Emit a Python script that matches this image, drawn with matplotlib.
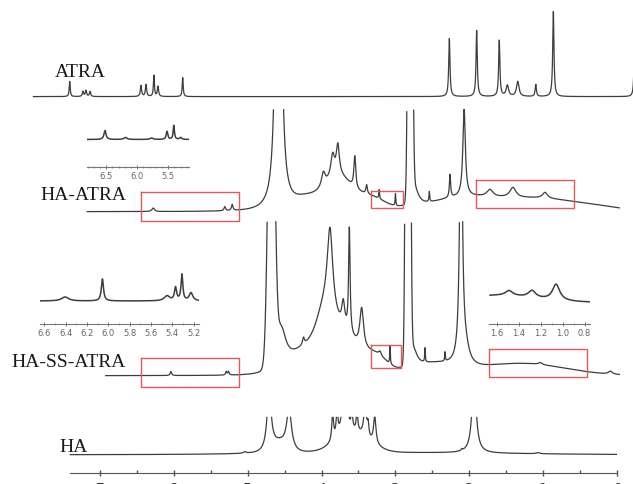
import numpy as np
import matplotlib
matplotlib.use("Agg")
import matplotlib.pyplot as plt

# ------------------------------------------------------------------ data
labels = ["ATRA", "HA-ATRA", "HA-SS-ATRA", "HA"]
main_ticks = [7, 6, 5, 4, 3, 2, 1, 0]

# ATRA : Lorentzian lines (ppm, height, half-width)
atra_ppm = [7.41, 7.23, 7.19, 7.135, 6.445, 6.377, 6.27, 6.215, 5.88,
            2.27, 1.90, 1.594, 1.485, 1.344, 1.10, 0.862, -0.235]
atra_h = [15, 5, 6, 5, 11, 12, 21, 10, 19, 58, 66, 56, 11, 15, 12, 85, 40]
atra_w = [0.008, 0.01, 0.01, 0.01, 0.01, 0.01, 0.008, 0.01, 0.008,
          0.01, 0.01, 0.01, 0.02, 0.02, 0.01, 0.01, 0.01]

# HA-ATRA
haatra_ppm = [6.28, 5.31, 5.21, 4.583, 3.976, 3.85, 3.78, 3.55, 3.39, 3.22,
              3.00, 2.74, 2.541, 2.261, 2.07, 1.72, 1.41, 0.975]
haatra_h = [3.5, 4, 6, 1287, 14, 22, 30, 32, 9, 9, 12, 20, 10, 23, 88, 7, 10, 6]
haatra_w = [0.02, 0.012, 0.012, 0.02, 0.03, 0.03, 0.025, 0.015, 0.012, 0.006,
            0.005, 0.06, 0.006, 0.01, 0.02, 0.05, 0.05, 0.04]
haatra_bg_ppm = [4.20, 3.78, 3.35, 2.80, 2.10, 1.10, 0.30]
haatra_bg_h = [12, 32, 14, 1000, 13, 12, 4]
haatra_bg_s = [0.18, 0.18, 0.20, 0.021, 0.45, 0.50, 0.40]

# HA-SS-ATRA
hass_ppm = [6.04, 5.29, 5.26, 4.55, 4.245, 3.886, 3.706, 3.624, 3.457, 3.21,
            3.073, 2.76, 2.60, 2.329, 2.112, 2.05, 1.04, 0.09]
hass_h = [4, 3.5, 3.5, 40, 7, 82, 25, 105, 40, 4, 18, 20, 14, 9, 300, 15, 2, 3]
hass_w = [0.012, 0.01, 0.01, 0.08, 0.015, 0.045, 0.025, 0.012, 0.03, 0.02,
          0.005, 0.06, 0.005, 0.005, 0.02, 0.06, 0.03, 0.03]
hass_bg_ppm = [4.68, 4.20, 3.95, 3.75, 3.25, 2.83, 2.50, 1.30]
hass_bg_h = [400, 22, 25, 40, 15, 1500, 10, 12]
hass_bg_s = [0.04, 0.25, 0.10, 0.25, 0.15, 0.021, 0.30, 0.60]

# HA
ha_ppm = [5.04, 4.71, 4.44, 3.85, 3.79, 3.70, 3.66, 3.59, 3.52, 3.41, 3.37,
          3.28, 2.10, 1.935, 1.07]
ha_h = [1.5, 60, 40, 26, 24, 40, 30, 18, 20, 35, 12, 27, 1.5, 77, 1]
ha_w = [0.02, 0.0335, 0.04, 0.015, 0.015, 0.03, 0.02, 0.012, 0.012, 0.02,
        0.012, 0.02, 0.01, 0.0335, 0.03]
ha_bg_ppm = [4.57, 3.58, 3.0]
ha_bg_h = [9, 20, 2]
ha_bg_s = [0.10, 0.22, 1.5]

# insets
in1_ppm = [6.52, 6.19, 5.77, 5.52, 5.41, 5.30]
in1_h = [9, 2, 1.5, 8, 14, 2]
in1_w = [0.02, 0.03, 0.03, 0.015, 0.012, 0.02]
in1_ticks = [6.5, 6.0, 5.5]

in2_ppm = [6.405, 6.055, 5.45, 5.37, 5.31, 5.225]
in2_h = [4, 22, 5, 13, 26, 8]
in2_w = [0.04, 0.012, 0.03, 0.012, 0.01, 0.02]
in2_ticks = [6.6, 6.4, 6.2, 6.0, 5.8, 5.6, 5.4, 5.2]

in3_ppm = [1.49, 1.28, 1.06]
in3_h = [5, 7, 16]
in3_w = [0.04, 0.04, 0.04]
in3_bg_ppm = [1.6]
in3_bg_h = [7]
in3_bg_s = [0.35]
in3_ticks = [1.6, 1.4, 1.2, 1.0, 0.8]

# highlighted regions (ppm ranges)
box_ppm = [(6.445, 5.118), (3.335, 2.893), (1.909, 0.582),
           (6.445, 5.118), (3.331, 2.929), (1.729, 0.410)]

# ------------------------------------------------------------------ helpers
def lor(x, c, h, w):
    y = np.zeros_like(x)
    for ci, hi, wi in zip(c, h, w):
        y += hi * wi ** 2 / ((x - ci) ** 2 + wi ** 2)
    return y


def gau(x, c, h, s):
    y = np.zeros_like(x)
    for ci, hi, si in zip(c, h, s):
        y += hi * np.exp(-(x - ci) ** 2 / (2 * si ** 2))
    return y


LINE = "#3d3d3d"
RED = "#e15b5b"
W, H = 633, 485

fig = plt.figure(figsize=(W / 100, H / 100), dpi=100)
ax = fig.add_axes([0, 0, 1, 1])
ax.set_xlim(617 / 73.86, -16 / 73.86)
ax.set_ylim(H, 0)
ax.patch.set_alpha(0)


def draw(axis, rng, base, clip, pk, bg=None, lw=0.9, n=30000):
    x = np.linspace(rng[0], rng[1], n)
    s = lor(x, *pk)
    if bg is not None:
        s = s + gau(x, *bg)
    y = base - s
    if clip is not None:
        y = np.where(y < clip, np.nan, y)
    axis.plot(x, y, color=LINE, lw=lw, solid_capstyle="butt")


# main traces: (ppm range, baseline px, clip px)
draw(ax, (7.91, -0.30), 97.6, None, (atra_ppm, atra_h, atra_w))
draw(ax, (7.18, -0.04), 212.7, 110, (haatra_ppm, haatra_h, haatra_w),
     (haatra_bg_ppm, haatra_bg_h, haatra_bg_s))
draw(ax, (6.93, -0.04), 376.7, 221.7, (hass_ppm, hass_h, hass_w),
     (hass_bg_ppm, hass_bg_h, hass_bg_s))
draw(ax, (7.41, 0.0), 455.7, 417.7, (ha_ppm, ha_h, ha_w),
     (ha_bg_ppm, ha_bg_h, ha_bg_s))

# red boxes
box_y = [(192.7, 221.7), (192.3, 209.3), (180.7, 209.3),
         (359.0, 387.7), (346.0, 369.0), (350.0, 378.3)]
for (a, b), (t, btm) in zip(box_ppm, box_y):
    ax.plot([a, b, b, a, a], [t, t, btm, btm, t], color=RED, lw=1.0)

# bottom ppm axis
for sp in ["top", "left", "right"]:
    ax.spines[sp].set_visible(False)
ax.spines["bottom"].set_position(("data", 474))
ax.spines["bottom"].set_bounds(7.4, 0.0)
ax.spines["bottom"].set_color("#555555")
ax.set_xticks(main_ticks)
ax.set_xticklabels([str(t) for t in main_ticks])
ax.set_xticks(np.arange(0.5, 7.5, 1.0), minor=True)
ax.tick_params(axis="x", which="major", direction="inout", length=5,
               width=1, color="#555555", labelsize=10, labelcolor="#333333", pad=3)
ax.tick_params(axis="x", which="minor", direction="in", length=2.5,
               width=1, color="#555555")
ax.set_yticks([])

# spectrum names
name_pos = [(55, 77), (40, 200), (11, 367), (59, 452)]
for txt, (px, py) in zip(labels, name_pos):
    fig.text(px / W, 1 - py / H, txt, fontsize=14, family="Liberation Serif",
             color="#1a1a1a", ha="left", va="baseline")


def inset(x0, x1, ybot, ytop, xlim, base, pk, ticks, bg=None):
    a = fig.add_axes([x0 / W, 1 - ybot / H, (x1 - x0) / W, (ybot - ytop) / H])
    a.set_xlim(*xlim)
    a.set_ylim(ybot, ytop)
    a.patch.set_alpha(0)
    draw(a, xlim, base, None, pk, bg, lw=1.1, n=4000)
    for sp in ["top", "left", "right"]:
        a.spines[sp].set_visible(False)
    a.spines["bottom"].set_color("#777777")
    a.spines["bottom"].set_linewidth(0.8)
    a.set_xticks(ticks)
    a.set_xticklabels([f"{t:.1f}" for t in ticks])
    lo, hi = min(xlim), max(xlim)
    a.set_xticks(np.round(np.arange(np.ceil(lo * 10) / 10, hi, 0.1), 2), minor=True)
    a.tick_params(axis="x", which="major", direction="inout", length=3, width=0.7,
                  color="#777777", labelsize=6, labelcolor="#666666", pad=1.5)
    a.tick_params(axis="x", which="minor", direction="inout", length=2, width=0.6,
                  color="#888888")
    a.set_yticks([])
    return a


inset(87, 189.3, 167.7, 115, (6.81, 5.16), 140.5, (in1_ppm, in1_h, in1_w), in1_ticks)
inset(40, 199, 325, 262, (6.64, 5.15), 302, (in2_ppm, in2_h, in2_w), in2_ticks)
inset(489.3, 590, 325, 275, (1.67, 0.75), 303.5, (in3_ppm, in3_h, in3_w), in3_ticks,
      (in3_bg_ppm, in3_bg_h, in3_bg_s))

fig.savefig("out.png", dpi=100, facecolor="white")
